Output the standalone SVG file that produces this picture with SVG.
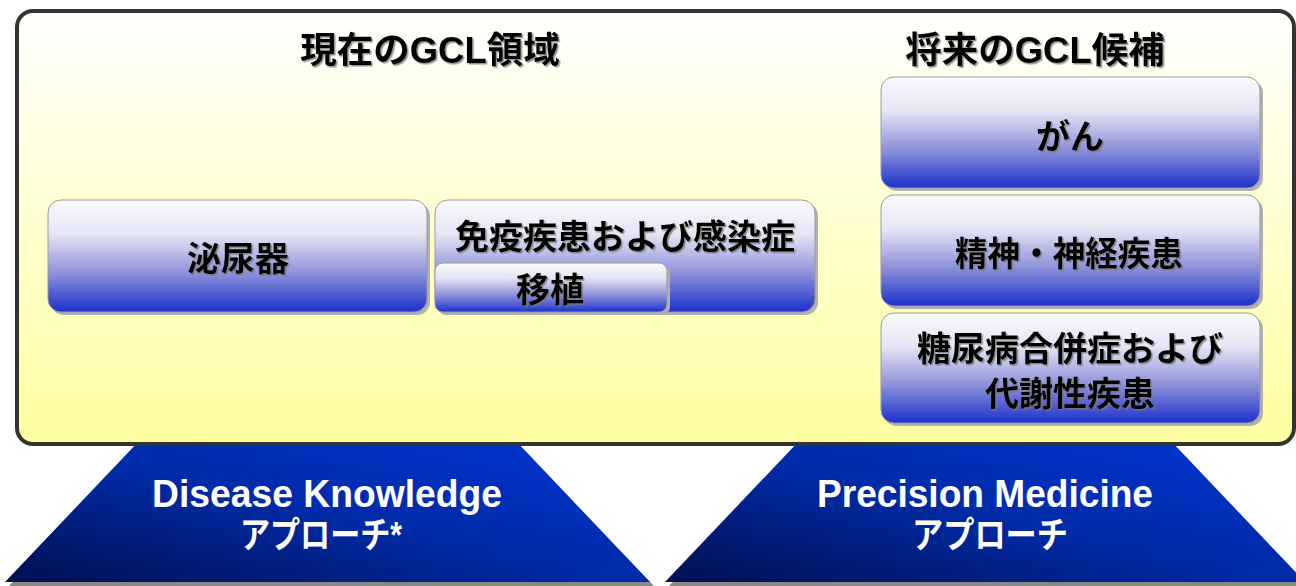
<svg xmlns="http://www.w3.org/2000/svg" width="1296" height="586" viewBox="0 0 1296 586">
<defs>
  <linearGradient id="bg" x1="0" y1="0" x2="0" y2="1">
    <stop offset="0" stop-color="#FFFFFF"/>
    <stop offset="1" stop-color="#FFFFA0"/>
  </linearGradient>
  <linearGradient id="node" x1="0" y1="0" x2="0" y2="1">
    <stop offset="0" stop-color="#FAFAFF"/>
    <stop offset="0.3" stop-color="#E6E6F4"/>
    <stop offset="0.65" stop-color="#8E92DA"/>
    <stop offset="1" stop-color="#1C30CC"/>
  </linearGradient>
  <linearGradient id="trap" x1="0" y1="1" x2="1" y2="0">
    <stop offset="0" stop-color="#001050"/>
    <stop offset="0.5" stop-color="#002BA8"/>
    <stop offset="1" stop-color="#0036D4"/>
  </linearGradient>
  <filter id="ts" x="-10%" y="-20%" width="120%" height="140%">
    <feDropShadow dx="1.5" dy="1.5" stdDeviation="0.6" flood-color="#777" flood-opacity="0.8"/>
  </filter>
  <style>
    .box { fill: url(#node); stroke: #9a9a9a; stroke-width: 1; }
    .sh { fill: #b0b0b0; }
    .lbl { font-family: "Noto Sans CJK JP", "Liberation Sans", sans-serif; font-weight: bold; font-size: 34px; fill: #000; text-anchor: middle; filter: url(#ts); }
    .ttl { font-family: "Liberation Sans", "Noto Sans CJK JP", sans-serif; font-weight: bold; font-size: 36.5px; fill: #000; text-anchor: middle; filter: url(#ts); }
    .ttlj { font-family: "Noto Sans CJK JP", sans-serif; }
    .wt { font-family: "Liberation Sans", "Noto Sans CJK JP", sans-serif; font-weight: bold; fill: #fff; text-anchor: middle; }
  </style>
</defs>

<g id="approach-left">
  <polygon points="144,447 519,447 654,586 9,586" fill="#888"/>
  <polygon points="140,440 515,440 650,582 5,582" fill="url(#trap)"/>
  <text class="wt" x="327" y="507" font-size="38" textLength="350" lengthAdjust="spacingAndGlyphs">Disease Knowledge</text>
  <text class="wt" x="321" y="548" font-size="36" textLength="162" lengthAdjust="spacingAndGlyphs" font-family="Noto Sans CJK JP, sans-serif">アプローチ*</text>
</g>

<g id="approach-right">
  <polygon points="804,447 1174,447 1309,586 669,586" fill="#888"/>
  <polygon points="800,440 1170,440 1305,582 665,582" fill="url(#trap)"/>
  <text class="wt" x="985" y="507" font-size="38" textLength="336" lengthAdjust="spacingAndGlyphs">Precision Medicine</text>
  <text class="wt" x="990" y="548" font-size="36" textLength="156" lengthAdjust="spacingAndGlyphs" font-family="Noto Sans CJK JP, sans-serif">アプローチ</text>
</g>

<g id="frame">
  <rect x="17" y="11" width="1277" height="433" rx="16" fill="url(#bg)" stroke="#333" stroke-width="4"/>
  <text class="ttl" x="430" y="63"><tspan class="ttlj">現在の</tspan>GCL<tspan class="ttlj">領域</tspan></text>
  <text class="ttl" x="1035" y="63"><tspan class="ttlj">将来の</tspan>GCL<tspan class="ttlj">候補</tspan></text>
</g>

<g id="urology">
  <rect class="sh" x="51" y="203" width="379" height="112" rx="13"/>
  <rect class="box" x="48" y="200" width="379" height="112" rx="13"/>
  <text class="lbl" x="238" y="271">泌尿器</text>
</g>

<g id="immunology">
  <rect class="sh" x="438" y="203" width="380" height="112" rx="13"/>
  <rect class="box" x="435" y="200" width="380" height="112" rx="13"/>
  <text class="lbl" x="625" y="249">免疫疾患および感染症</text>
</g>

<g id="transplant">
  <rect class="sh" x="438" y="266" width="232" height="49" rx="8"/>
  <rect class="box" x="435" y="263" width="232" height="49" rx="8"/>
  <text class="lbl" x="550" y="302">移植</text>
</g>

<g id="oncology">
  <rect class="sh" x="884" y="80" width="379" height="111" rx="13"/>
  <rect class="box" x="881" y="77" width="379" height="111" rx="13"/>
  <text class="lbl" x="1070" y="149">がん</text>
</g>

<g id="neuro">
  <rect class="sh" x="884" y="198" width="379" height="111" rx="13"/>
  <rect class="box" x="881" y="195" width="379" height="111" rx="13"/>
  <text class="lbl" x="1069" y="266" textLength="228" lengthAdjust="spacingAndGlyphs">精神・神経疾患</text>
</g>

<g id="metabolic">
  <rect class="sh" x="884" y="316" width="379" height="110" rx="13"/>
  <rect class="box" x="881" y="313" width="379" height="110" rx="13"/>
  <text class="lbl" x="1070" y="361" font-size="33">糖尿病合併症および</text>
  <text class="lbl" x="1070" y="406" font-size="33">代謝性疾患</text>
</g>

<g id="connectors"></g>
</svg>
